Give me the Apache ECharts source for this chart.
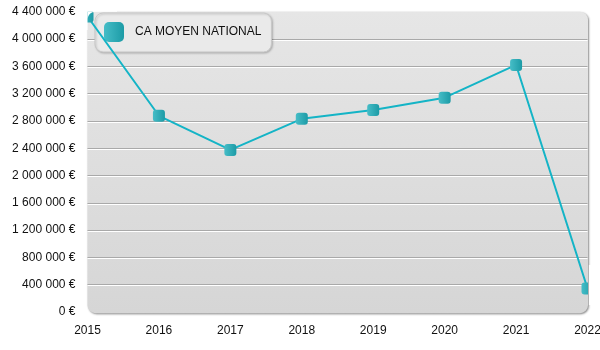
<!DOCTYPE html>
<html>
<head>
<meta charset="utf-8">
<script src="https://cdn.jsdelivr.net/npm/echarts@6/dist/echarts.min.js"></script>
<style>
  html, body { margin: 0; padding: 0; background: #fff; }
  #chart { width: 600px; height: 350px; }
</style>
</head>
<body>
<div id="chart"></div>
<script>
// Années et chiffre d'affaires moyen national (en euros)
const years = ['2015', '2016', '2017', '2018', '2019', '2020', '2021', '2022'];
const caMoyen = [4330000, 2875000, 2375000, 2830000, 2960000, 3140000, 3620000, 345000];
const seriesName = 'CA MOYEN NATIONAL';
const yMax = 4400000;
const yStep = 400000;

// Plot area geometry (pixels)
const W = 600, H = 350;
const GRID = { left: 87.5, right: 12.5, top: 11.7, bottom: 38 };
const plotW = W - GRID.left - GRID.right;
const plotH = H - GRID.top - GRID.bottom;
const plotRight = GRID.left + plotW;
const R = 8;

const FONT = '"Liberation Sans", Arial, sans-serif';

function euro(v) {
  return String(v).replace(/\B(?=(\d{3})+(?!\d))/g, ' ') + ' €';
}

const markerGradient = new echarts.graphic.LinearGradient(0, 0, 1, 0, [
  { offset: 0, color: '#46bdc7' },
  { offset: 1, color: '#1c9ba6' }
]);

// Split lines: hide the top and bottom ones (the panel edges stand in for them)
const nLines = Math.round(yMax / yStep) + 1;
const splitColors = [];
for (let i = 0; i < nLines; i++) {
  splitColors.push(i === 0 || i === nLines - 1 ? 'rgba(0,0,0,0)' : '#a9a9a9');
}

// White fill outside the panel's rounded top-left corner
const cornerPts = [[GRID.left, GRID.top], [GRID.left + R, GRID.top]];
for (let k = 1; k < 12; k++) {
  const a = -Math.PI / 2 - (Math.PI / 2) * (k / 12);
  cornerPts.push([GRID.left + R + R * Math.cos(a), GRID.top + R + R * Math.sin(a)]);
}
cornerPts.push([GRID.left, GRID.top + R]);

const chart = echarts.init(document.getElementById('chart'), null, { renderer: 'canvas' });

chart.setOption({
  animation: false,
  backgroundColor: '#ffffff',
  textStyle: { fontFamily: FONT },
  grid: {
    left: GRID.left, right: GRID.right, top: GRID.top, bottom: GRID.bottom,
    containLabel: false,
    outerBoundsMode: 'none'
  },
  legend: {
    left: 95,
    top: 13,
    z: 1,
    icon: 'roundRect',
    itemWidth: 20,
    itemHeight: 20,
    padding: [9, 10, 10, 9],
    backgroundColor: '#eaeaea',
    borderColor: '#c8c8c8',
    borderWidth: 1,
    borderRadius: 8,
    shadowBlur: 2,
    shadowColor: 'rgba(0,0,0,0.2)',
    shadowOffsetX: 1,
    shadowOffsetY: 1,
    textStyle: { fontFamily: FONT, fontSize: 12, color: '#111', padding: [0, 0, 0, 6] },
    data: [seriesName]
  },
  xAxis: {
    type: 'category',
    data: years,
    boundaryGap: false,
    axisLine: { show: false },
    axisTick: { show: false },
    axisLabel: { margin: 13, fontFamily: FONT, fontSize: 12, color: '#111' },
    splitLine: { show: false }
  },
  yAxis: {
    type: 'value',
    min: 0,
    max: yMax,
    interval: yStep,
    axisLine: { show: false },
    axisTick: { show: false },
    axisLabel: {
      margin: 12, fontFamily: FONT, fontSize: 12, color: '#111',
      padding: [3, 0, 0, 0],
      formatter: euro
    },
    splitLine: {
      show: true,
      lineStyle: {
        color: splitColors,
        width: 1,
        shadowColor: '#ffffff',
        shadowOffsetY: 1,
        shadowBlur: 0
      }
    }
  },
  graphic: [
    {
      // rounded gray panel behind the plot
      type: 'rect',
      z: -1,
      silent: true,
      shape: { x: GRID.left, y: GRID.top, width: plotW + 0.5, height: plotH + 1.2, r: R },
      style: {
        fill: new echarts.graphic.LinearGradient(0, 0, 0, 1, [
          { offset: 0, color: '#e6e6e6' },
          { offset: 1, color: '#d6d6d6' }
        ]),
        shadowBlur: 2,
        shadowOffsetX: 1,
        shadowOffsetY: 1,
        shadowColor: 'rgba(0,0,0,0.45)'
      }
    },
    // white edges that trim markers sitting on the panel border
    { type: 'rect', z: 5, silent: true, shape: { x: 77, y: 0, width: GRID.left - 77, height: 30 }, style: { fill: '#ffffff' } },
    { type: 'rect', z: 5, silent: true, shape: { x: 77, y: 0, width: 40, height: GRID.top }, style: { fill: '#ffffff' } },
    { type: 'polygon', z: 5, silent: true, shape: { points: cornerPts }, style: { fill: '#ffffff' } },
    { type: 'rect', z: 5, silent: true, shape: { x: plotRight + 0.5, y: 265, width: 12, height: 40 }, style: { fill: '#ffffff' } },
    {
      type: 'line', z: 6, silent: true,
      shape: { x1: plotRight + 1, y1: 265, x2: plotRight + 1, y2: 305 },
      style: { stroke: '#b2b2b2', lineWidth: 1 }
    }
  ],
  series: [
    {
      name: seriesName,
      type: 'line',
      z: 2,
      data: caMoyen,
      symbol: 'roundRect',
      symbolSize: 12,
      showAllSymbol: true,
      lineStyle: { color: '#14b4c6', width: 2 },
      itemStyle: { color: markerGradient, borderWidth: 0 }
    }
  ]
});
</script>
</body>
</html>
